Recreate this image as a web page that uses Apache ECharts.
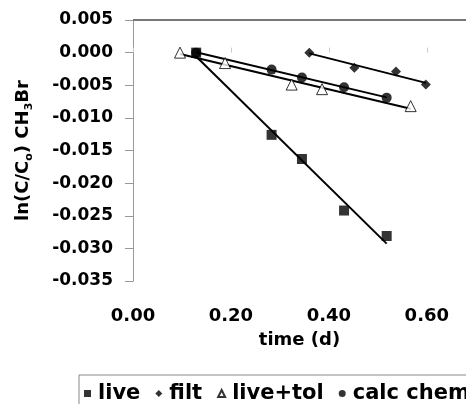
<!DOCTYPE html>
<html>
<head>
<meta charset="UTF-8">
<title>ln(C/Co) CH3Br vs time</title>
<script src="https://cdn.jsdelivr.net/npm/echarts@6/dist/echarts.min.js"></script>
<style>
    html, body, #chart { width: 100%; height: 100%; margin: 0; padding: 0; }
    body { overflow: hidden; background: #fff; }
</style>
</head>
<body>
<div id="chart"></div>
<script>
    // values: [time (d), ln(C/Co)]
    const liveData = [[0.129, 0.0000], [0.283, -0.0126], [0.345, -0.0163], [0.431, -0.0242], [0.518, -0.0281]];
    const filtData = [[0.360, 0.0000], [0.452, -0.0023], [0.537, -0.0029], [0.598, -0.0049]];
    const liveTolData = [[0.096, 0.0000], [0.188, -0.0016], [0.324, -0.0049], [0.386, -0.0056], [0.567, -0.0082]];
    const calcChemData = [[0.129, 0.0000], [0.283, -0.0026], [0.345, -0.0038], [0.431, -0.0053], [0.518, -0.0069]];
    const seriesNames = ['live', 'filt', 'live+tol', 'calc chem'];
    const yMin = -0.035, yMax = 0.005, yStep = 0.005;
    const xMax = 0.68, xStep = 0.2;

    // linear trendline across the data's x range
    function trend(points) {
        const n = points.length;
        const mx = points.reduce((s, p) => s + p[0], 0) / n;
        const my = points.reduce((s, p) => s + p[1], 0) / n;
        let sxy = 0, sxx = 0;
        points.forEach(p => { sxy += (p[0] - mx) * (p[1] - my); sxx += (p[0] - mx) * (p[0] - mx); });
        const k = sxy / sxx;
        const xs = points.map(p => p[0]);
        const x0 = Math.min(...xs), x1 = Math.max(...xs);
        return [[x0, my + k * (x0 - mx)], [x1, my + k * (x1 - mx)]];
    }

    const font = '"DejaVu Sans", sans-serif';
    const chart = echarts.init(document.getElementById('chart'));

    function scatter(name, data, symbol, size, fill) {
        return {
            name: name, type: 'scatter', data: data, symbol: symbol, symbolSize: size,
            itemStyle: { color: fill, borderColor: '#000', borderWidth: fill === '#fff' ? 1 : 0 },
            z: 3
        };
    }
    function trendLine(data) {
        return {
            type: 'line', data: trend(data), symbol: 'none', silent: true,
            lineStyle: { color: '#000', width: 2 }, z: 2
        };
    }

    // the x axis crosses at y max, so its line runs along the top of the plot
    const topAxisLine = {
        type: 'line', data: [[0, yMax], [xMax, yMax]], symbol: 'none', silent: true,
        clip: false, lineStyle: { color: '#777', width: 2 }, z: 5
    };

    const option = {
        animation: false,
        grid: { left: 133, top: 20, right: 0, bottom: 123 },
        legend: {
            data: [
                { name: seriesNames[0], icon: 'rect' },
                { name: seriesNames[1], icon: 'diamond' },
                { name: seriesNames[2], icon: 'triangle' },
                { name: seriesNames[3], icon: 'circle' }
            ],
            left: 79, top: 375, width: 600,
            padding: [8, 4, 20, 5],
            itemWidth: 7, itemHeight: 7, itemGap: 15,
            borderColor: '#888', borderWidth: 1,
            selectedMode: false,
            textStyle: { fontFamily: font, fontWeight: 'bold', fontSize: 21, color: '#000', padding: [0, 0, 0, 2] }
        },
        xAxis: {
            type: 'value', min: 0, max: xMax, interval: xStep,
            name: 'time (d)', nameLocation: 'middle', nameGap: 50,
            nameTextStyle: { fontFamily: font, fontWeight: 'bold', fontSize: 18, color: '#000' },
            axisLine: { show: false },
            axisTick: { show: true, inside: true, length: 5, lineStyle: { color: '#ccc' } },
            splitLine: { show: false },
            axisLabel: {
                margin: 26, showMaxLabel: false,
                fontFamily: font, fontWeight: 'bold', fontSize: 18, color: '#000',
                formatter: v => v.toFixed(2)
            }
        },
        yAxis: {
            type: 'value', min: yMin, max: yMax, interval: yStep,
            name: '{a|ln(C/C}{s|o}{a|) CH}{s|3}{a|Br}',
            nameLocation: 'middle', nameGap: 98, nameRotate: 90,
            nameTextStyle: {
                rich: {
                    a: { fontFamily: font, fontWeight: 'bold', fontSize: 18, color: '#000', lineHeight: 24 },
                    s: { fontFamily: font, fontWeight: 'bold', fontSize: 11, color: '#000', lineHeight: 24, verticalAlign: 'bottom', padding: [8, 0, 0, 0] }
                }
            },
            axisLine: { show: true, onZero: false, lineStyle: { color: '#999', width: 1 } },
            axisTick: { show: true, length: 8, lineStyle: { color: '#999' } },
            splitLine: { show: false },
            axisLabel: {
                margin: 20, fontFamily: font, fontWeight: 'bold', fontSize: 17, color: '#000',
                formatter: v => v.toFixed(3)
            }
        },
        series: [
            scatter(seriesNames[0], liveData, 'rect', 10, '#000'),
            scatter(seriesNames[1], filtData, 'diamond', 10, '#000'),
            scatter(seriesNames[2], liveTolData, 'triangle', 11, '#fff'),
            scatter(seriesNames[3], calcChemData, 'circle', 10, '#000'),
            trendLine(liveData),
            trendLine(filtData),
            trendLine(liveTolData),
            trendLine(calcChemData),
            topAxisLine
        ]
    };

    chart.setOption(option);
    window.addEventListener('resize', function () { chart.resize(); });
</script>
</body>
</html>
